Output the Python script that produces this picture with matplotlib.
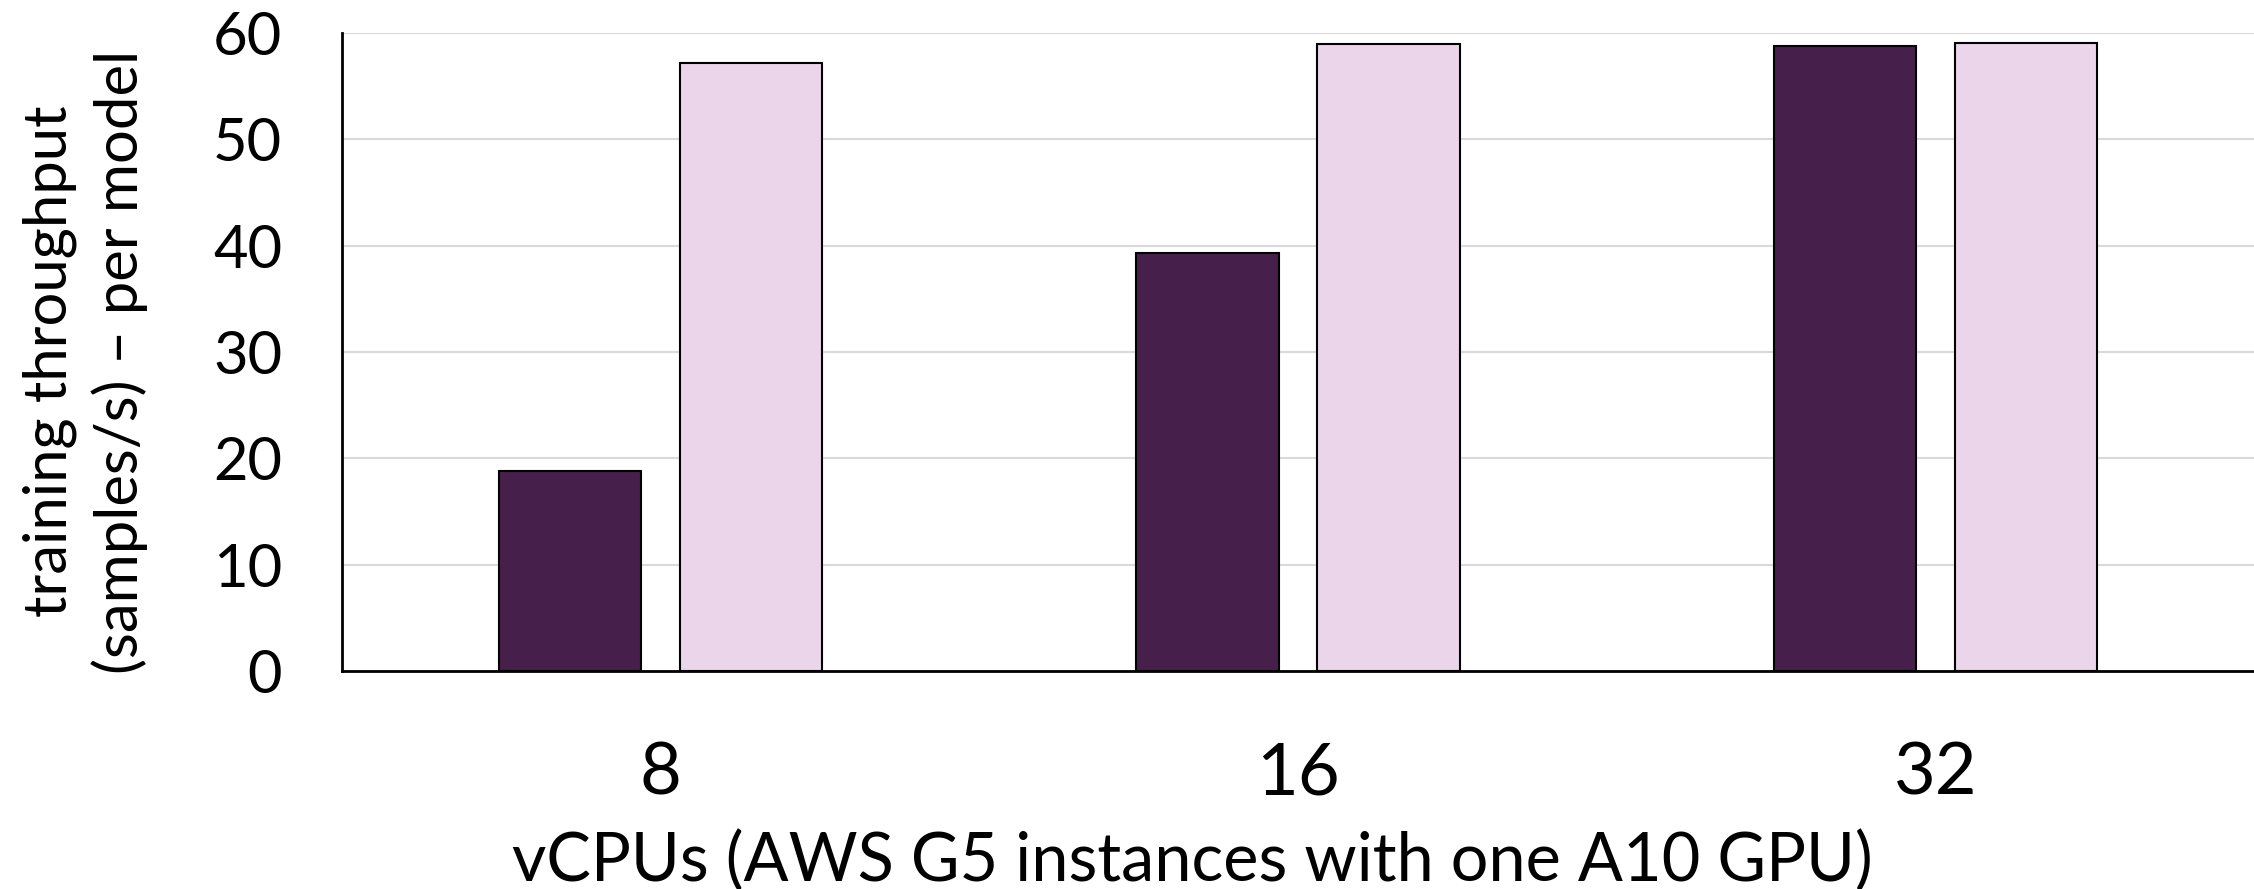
import numpy as np
import matplotlib
matplotlib.use("Agg")
import matplotlib.pyplot as plt

# data
vcpus = ["8", "16", "32"]
series_a = [18.8, 39.3, 58.8]   # dark bars
series_b = [57.2, 59.0, 59.05]  # light bars
yticks = [0, 10, 20, 30, 40, 50, 60]

color_dark = "#46204A"
color_light = "#EBD5EB"

plt.rcParams["font.family"] = ["Lato", "DejaVu Sans"]

fig = plt.figure(figsize=(22.54, 8.89), dpi=100)
ax = fig.add_axes([0.1517, 0.2452, 0.8483, 0.7177])

x = np.arange(len(vcpus))
width = 0.2235
off = 0.142
ax.bar(x - off, series_a, width, color=color_dark, edgecolor="black", linewidth=1.5, zorder=3)
ax.bar(x + off, series_b, width, color=color_light, edgecolor="black", linewidth=1.5, zorder=3)

ax.set_xlim(-0.5, 2.5)
ax.set_ylim(0, 60)
ax.set_yticks(yticks)
ax.set_xticks(x)
ax.set_xticklabels(vcpus)
ax.tick_params(axis="y", length=0, pad=43, labelsize=43)
ax.tick_params(axis="x", length=0, pad=51, labelsize=52)

ax.grid(axis="y", color="#D9D9D9", linewidth=1.5, zorder=0)
ax.set_axisbelow(True)
for s in ("top", "right"):
    ax.spines[s].set_visible(False)
ax.spines["left"].set_linewidth(2)
ax.spines["bottom"].set_linewidth(2)

ax.set_ylabel("training throughput\n(samples/s) \u2013 per model", fontsize=43,
              linespacing=1.3)
ax.yaxis.set_label_coords(-0.1015, 0.485)
ax.set_xlabel("vCPUs (AWS G5 instances with one A10 GPU)", fontsize=48)
ax.xaxis.set_label_coords(0.4446, -0.25)

fig.savefig("out.png", dpi=100)
